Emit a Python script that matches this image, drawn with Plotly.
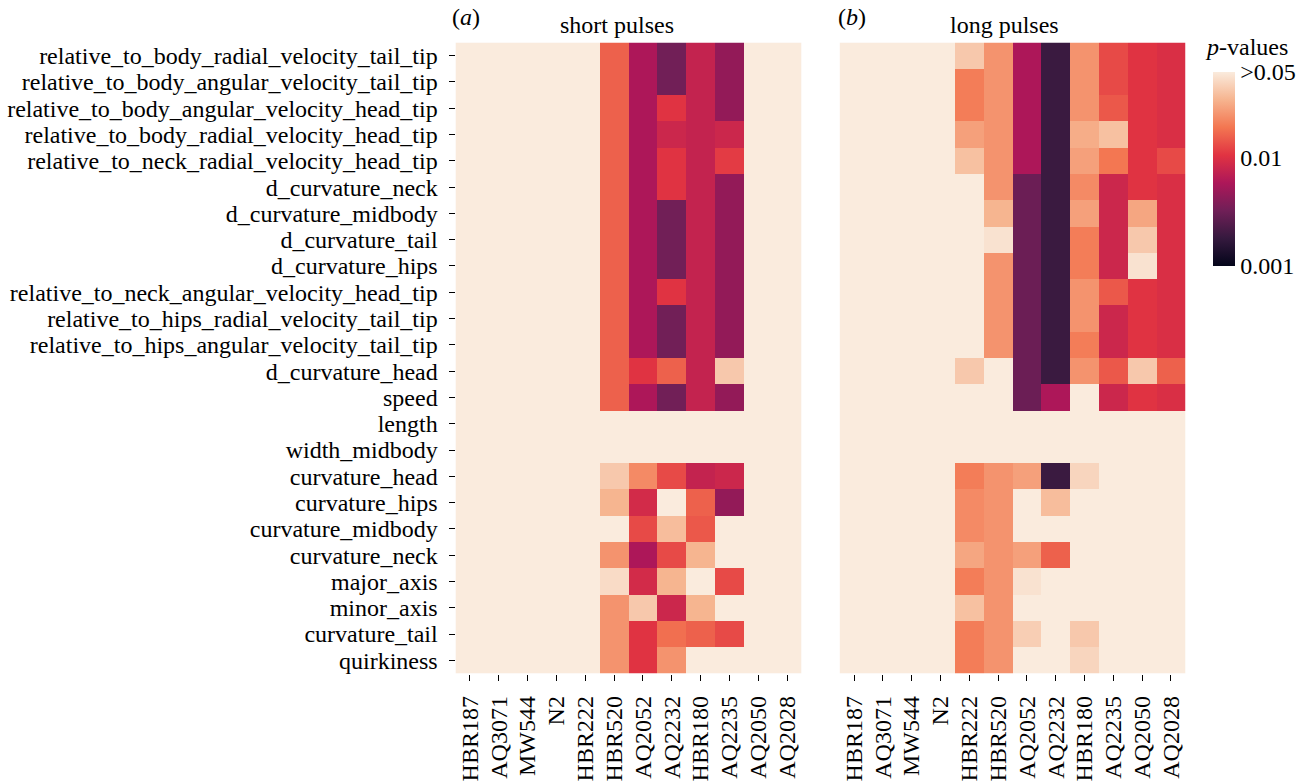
import numpy as np
import plotly.graph_objects as go

features = [
    "relative_to_body_radial_velocity_tail_tip",
    "relative_to_body_angular_velocity_tail_tip",
    "relative_to_body_angular_velocity_head_tip",
    "relative_to_body_radial_velocity_head_tip",
    "relative_to_neck_radial_velocity_head_tip",
    "d_curvature_neck",
    "d_curvature_midbody",
    "d_curvature_tail",
    "d_curvature_hips",
    "relative_to_neck_angular_velocity_head_tip",
    "relative_to_hips_radial_velocity_tail_tip",
    "relative_to_hips_angular_velocity_tail_tip",
    "d_curvature_head",
    "speed",
    "length",
    "width_midbody",
    "curvature_head",
    "curvature_hips",
    "curvature_midbody",
    "curvature_neck",
    "major_axis",
    "minor_axis",
    "curvature_tail",
    "quirkiness",
]

strains_short = ["HBR187", "AQ3071", "MW544", "N2", "HBR222", "HBR520",
                 "AQ2052", "AQ2232", "HBR180", "AQ2235", "AQ2050", "AQ2028"]
strains_long = ["HBR187", "AQ3071", "MW544", "N2", "HBR222", "HBR520",
                "AQ2052", "AQ2232", "HBR180", "AQ2235", "AQ2050", "AQ2028"]

N = 1.0  # not significant (> 0.05)

# p-values, rows = features, columns = strains
short_p = [
    [N, N, N, N, N, 0.0161, 0.0059, 0.0033, 0.0076, 0.0046, N, N],
    [N, N, N, N, N, 0.0161, 0.0059, 0.0033, 0.0076, 0.0046, N, N],
    [N, N, N, N, N, 0.0161, 0.0059, 0.0106, 0.0076, 0.0046, N, N],
    [N, N, N, N, N, 0.0161, 0.0059, 0.0083, 0.0076, 0.0083, N, N],
    [N, N, N, N, N, 0.0161, 0.0059, 0.0106, 0.0076, 0.0115, N, N],
    [N, N, N, N, N, 0.0161, 0.0059, 0.0106, 0.0076, 0.0046, N, N],
    [N, N, N, N, N, 0.0161, 0.0059, 0.0033, 0.0076, 0.0046, N, N],
    [N, N, N, N, N, 0.0161, 0.0059, 0.0033, 0.0076, 0.0046, N, N],
    [N, N, N, N, N, 0.0161, 0.0059, 0.0033, 0.0076, 0.0046, N, N],
    [N, N, N, N, N, 0.0161, 0.0059, 0.0106, 0.0076, 0.0046, N, N],
    [N, N, N, N, N, 0.0161, 0.0059, 0.0033, 0.0076, 0.0046, N, N],
    [N, N, N, N, N, 0.0161, 0.0059, 0.0033, 0.0076, 0.0046, N, N],
    [N, N, N, N, N, 0.0161, 0.0106, 0.0161, 0.0076, 0.0435, N, N],
    [N, N, N, N, N, 0.0161, 0.0059, 0.0033, 0.0076, 0.0046, N, N],
    [N, N, N, N, N, N, N, N, N, N, N, N],
    [N, N, N, N, N, N, N, N, N, N, N, N],
    [N, N, N, N, N, 0.0435, 0.0233, 0.0131, 0.0076, 0.0083, N, N],
    [N, N, N, N, N, 0.0353, 0.0090, N, 0.0161, 0.0046, N, N],
    [N, N, N, N, N, N, 0.0131, 0.0384, 0.0148, N, N, N],
    [N, N, N, N, N, 0.0254, 0.0059, 0.0131, 0.0353, N, N, N],
    [N, N, N, N, N, 0.0530, 0.0090, 0.0353, N, 0.0131, N, N],
    [N, N, N, N, N, 0.0254, 0.0435, 0.0083, 0.0353, N, N, N],
    [N, N, N, N, N, 0.0254, 0.0106, 0.0182, 0.0161, 0.0131, N, N],
    [N, N, N, N, N, 0.0254, 0.0106, 0.0254, N, N, N, N],
]

long_p = [
    [N, N, N, N, 0.0435, 0.0254, 0.0059, 0.0019, 0.0254, 0.0131, 0.0106, 0.0098],
    [N, N, N, N, 0.0206, 0.0254, 0.0059, 0.0019, 0.0254, 0.0131, 0.0106, 0.0098],
    [N, N, N, N, 0.0206, 0.0254, 0.0059, 0.0019, 0.0254, 0.0148, 0.0106, 0.0098],
    [N, N, N, N, 0.0287, 0.0254, 0.0059, 0.0019, 0.0325, 0.0400, 0.0106, 0.0098],
    [N, N, N, N, 0.0400, 0.0254, 0.0059, 0.0019, 0.0287, 0.0194, 0.0106, 0.0131],
    [N, N, N, N, N, 0.0254, 0.0031, 0.0019, 0.0233, 0.0083, 0.0106, 0.0098],
    [N, N, N, N, N, 0.0353, 0.0031, 0.0019, 0.0287, 0.0083, 0.0305, 0.0098],
    [N, N, N, N, N, 0.0570, 0.0031, 0.0019, 0.0206, 0.0083, 0.0435, 0.0098],
    [N, N, N, N, N, 0.0254, 0.0031, 0.0019, 0.0206, 0.0083, 0.0570, 0.0098],
    [N, N, N, N, N, 0.0254, 0.0031, 0.0019, 0.0254, 0.0148, 0.0106, 0.0098],
    [N, N, N, N, N, 0.0254, 0.0031, 0.0019, 0.0254, 0.0083, 0.0106, 0.0098],
    [N, N, N, N, N, 0.0254, 0.0031, 0.0019, 0.0206, 0.0083, 0.0106, 0.0098],
    [N, N, N, N, 0.0435, N, 0.0031, 0.0019, 0.0254, 0.0148, 0.0435, 0.0161],
    [N, N, N, N, N, N, 0.0031, 0.0059, N, 0.0083, 0.0106, 0.0098],
    [N, N, N, N, N, N, N, N, N, N, N, N],
    [N, N, N, N, N, N, N, N, N, N, N, N],
    [N, N, N, N, 0.0206, 0.0254, 0.0287, 0.0019, 0.0500, N, N, N],
    [N, N, N, N, 0.0233, 0.0254, N, 0.0384, N, N, N, N],
    [N, N, N, N, 0.0233, 0.0254, N, N, N, N, N, N],
    [N, N, N, N, 0.0305, 0.0254, 0.0287, 0.0161, N, N, N, N],
    [N, N, N, N, 0.0206, 0.0254, 0.0570, N, N, N, N, N],
    [N, N, N, N, 0.0400, 0.0254, N, N, N, N, N, N],
    [N, N, N, N, 0.0206, 0.0254, 0.0462, N, 0.0435, N, N, N],
    [N, N, N, N, 0.0206, 0.0254, N, N, 0.0500, N, N, N],
]

ZMIN = np.log10(0.001)
ZMAX = -1.2

rocket = [
    [0.0, "#03051a"],
    [1 / 7, "#35193e"],
    [2 / 7, "#701f57"],
    [3 / 7, "#ad1759"],
    [4 / 7, "#e13342"],
    [5 / 7, "#f37651"],
    [6 / 7, "#f6b48f"],
    [1.0, "#faebdd"],
]

W, H = 1312, 781
FONT = "Liberation Serif"
FS = 24

def px_x(v):
    return v / W

def px_y(v):
    return 1 - v / H

fig = go.Figure()
fig.add_trace(go.Heatmap(
    z=np.log10(np.array(short_p)), x=strains_short, y=features,
    coloraxis="coloraxis", xaxis="x", yaxis="y", hoverinfo="skip"))
fig.add_trace(go.Heatmap(
    z=np.log10(np.array(long_p)), x=strains_long, y=features,
    coloraxis="coloraxis", xaxis="x2", yaxis="y2", hoverinfo="skip"))

y_dom = [px_y(673.5), px_y(42.5)]
axis_common = dict(showgrid=False, zeroline=False, showline=False,
                   automargin=False, ticks="outside", ticklen=6,
                   tickwidth=1.3, tickcolor="black",
                   tickmode="linear", tick0=0, dtick=1,
                   tickfont=dict(family=FONT, size=FS, color="black"))

fig.update_layout(
    width=W, height=H,
    margin=dict(l=0, r=0, t=0, b=0),
    paper_bgcolor="white", plot_bgcolor="white",
    font=dict(family=FONT, size=FS, color="black"),
    showlegend=False,
    xaxis=dict(domain=[px_x(455.5), px_x(801.5)], anchor="y", tickangle=-90,
               ticklabelstandoff=6, **axis_common),
    yaxis=dict(domain=y_dom, anchor="x", autorange="reversed",
               ticklabelstandoff=6, **axis_common),
    xaxis2=dict(domain=[px_x(839.6), px_x(1185.4)], anchor="y2", tickangle=-90,
                ticklabelstandoff=6, **axis_common),
    yaxis2=dict(domain=y_dom, anchor="x2", autorange="reversed",
                showgrid=False, zeroline=False, showline=False,
                showticklabels=False, ticks=""),
    coloraxis=dict(
        colorscale=rocket, cmin=ZMIN, cmax=ZMAX,
        colorbar=dict(
            thicknessmode="pixels", thickness=22,
            lenmode="pixels", len=194,
            x=px_x(1213.3), xanchor="left", xpad=0,
            y=px_y(71.7), yanchor="top", ypad=0,
            outlinewidth=0, ticks="",
            tickvals=[ZMIN, -2, ZMAX],
            ticktext=["0.001", "0.01", ">0.05"],
            tickfont=dict(family=FONT, size=FS, color="black"),
        ),
    ),
    annotations=[
        dict(text="(<i>a</i>)", x=px_x(466), y=px_y(17), xref="paper", yref="paper",
             showarrow=False, xanchor="center", yanchor="middle",
             font=dict(family=FONT, size=FS)),
        dict(text="short pulses", x=px_x(617), y=px_y(25), xref="paper", yref="paper",
             showarrow=False, xanchor="center", yanchor="middle",
             font=dict(family=FONT, size=FS)),
        dict(text="(<i>b</i>)", x=px_x(852), y=px_y(17), xref="paper", yref="paper",
             showarrow=False, xanchor="center", yanchor="middle",
             font=dict(family=FONT, size=FS)),
        dict(text="long pulses", x=px_x(1004), y=px_y(25), xref="paper", yref="paper",
             showarrow=False, xanchor="center", yanchor="middle",
             font=dict(family=FONT, size=FS)),
        dict(text="<i>p</i>-values", x=px_x(1246), y=px_y(47), xref="paper", yref="paper",
             showarrow=False, xanchor="center", yanchor="middle",
             font=dict(family=FONT, size=FS)),
    ],
)

fig.write_html("out.html", config={"displayModeBar": False},
               post_script="document.body.style.margin='0';")
